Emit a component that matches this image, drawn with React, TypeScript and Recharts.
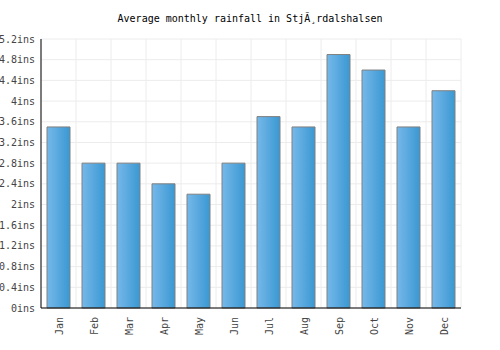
import { BarChart, Bar, XAxis, YAxis, CartesianGrid } from 'recharts'

const MONTHS = ['Jan', 'Feb', 'Mar', 'Apr', 'May', 'Jun', 'Jul', 'Aug', 'Sep', 'Oct', 'Nov', 'Dec']
const RAINFALL = [3.5, 2.8, 2.8, 2.4, 2.2, 2.8, 3.7, 3.5, 4.9, 4.6, 3.5, 4.2]
const Y_TICKS = [0, 0.4, 0.8, 1.2, 1.6, 2, 2.4, 2.8, 3.2, 3.6, 4, 4.4, 4.8, 5.2]
const GRID_TICKS = [0, 1, 2, 3, 4, 5, 6, 7, 8, 9, 10, 11, 12]
const TITLE = 'Average monthly rainfall in StjÃ¸rdalshalsen'

const FONT = '"DejaVu Sans Mono", monospace'

export default function App() {
  const data = MONTHS.map((m, i) => ({ month: m, rain: RAINFALL[i], slot: i + 0.5 }))

  return (
    <div style={{ position: 'absolute', left: 0, top: 0, width: 500, height: 350, background: '#fff' }}>
      <div
        style={{
          position: 'absolute', top: 13, left: 0, width: 500, textAlign: 'center',
          fontFamily: FONT, fontSize: 10, color: '#000',
        }}
      >
        {TITLE}
      </div>
      <BarChart
        width={500}
        height={350}
        data={data}
        margin={{ top: 39, right: 39, bottom: 0, left: 0 }}
      >
        <defs>
          <linearGradient id="barFill" x1="0" y1="0" x2="1" y2="0">
            <stop offset="0%" stopColor="#76b8ea" />
            <stop offset="100%" stopColor="#3a98d2" />
          </linearGradient>
        </defs>
        <CartesianGrid stroke="#ececec" xAxisId="grid" />
        <XAxis
          dataKey="month"
          height={42}
          interval={0}
          axisLine={{ stroke: '#000' }}
          tickLine={false}
          tick={{ fontSize: 10, fontFamily: FONT, fill: '#444' }}
          angle={-90}
          textAnchor="end"
          tickMargin={3}
          dx={-3}
        />
        <XAxis
          xAxisId="grid"
          type="number"
          dataKey="slot"
          domain={[0, 12]}
          ticks={GRID_TICKS}
          hide
        />
        <YAxis
          width={41}
          domain={[0, 5.2]}
          ticks={Y_TICKS}
          interval={0}
          axisLine={{ stroke: '#000' }}
          tickLine={false}
          tickSize={0}
          tickMargin={6}
          tick={{ fontSize: 10, fontFamily: FONT, fill: '#444' }}
          tickFormatter={(v: number) => `${v}ins`}
        />
        <Bar
          dataKey="rain"
          barSize={23}
          fill="url(#barFill)"
          stroke="#808080"
          strokeWidth={1}
          isAnimationActive={false}
        />
      </BarChart>
    </div>
  )
}
